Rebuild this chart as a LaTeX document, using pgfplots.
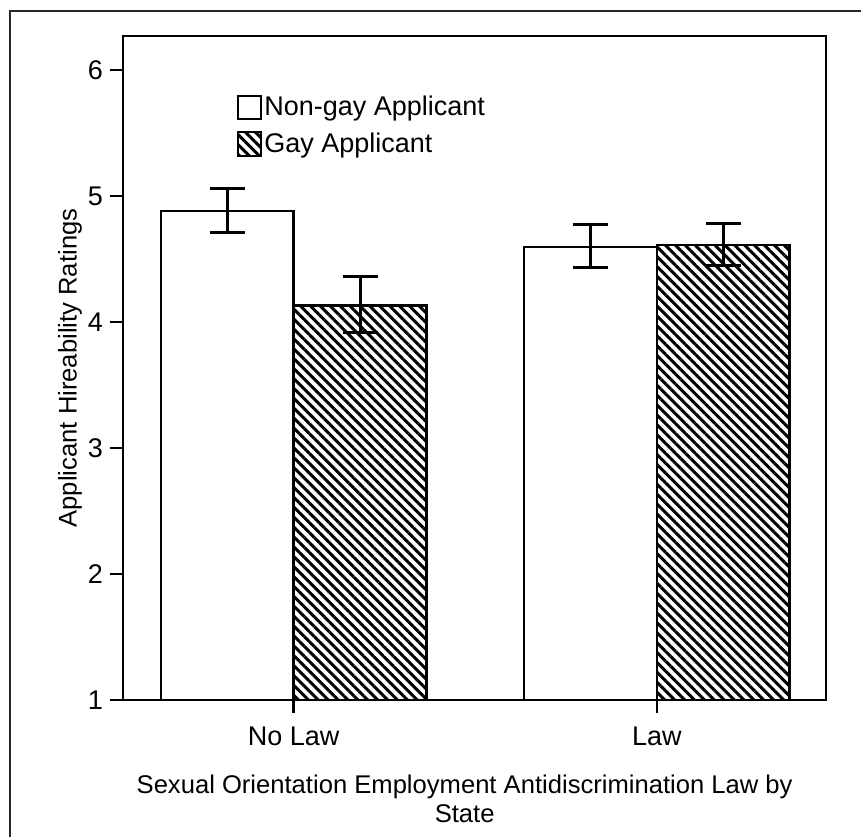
\documentclass[border=0pt]{standalone}
\usepackage{pgfplots}
\usepackage{pgfplotstable}
\pgfplotsset{compat=1.18}
\usepackage{fontspec}
\setmainfont{Liberation Sans}
\usetikzlibrary{patterns.meta}
\pgfplotstableread{
x y ep em
0 4.88 0.18 0.17
1 4.595 0.175 0.165
}\nongay
\pgfplotstableread{
x y ep em
0 4.13 0.23 0.21
1 4.61 0.17 0.16
}\gay
\begin{document}
\begin{tikzpicture}
\useasboundingbox (-61.5pt,-68.5pt) rectangle (369pt,350pt);
\draw[line width=0.8pt, black!85] (-56.5pt,-68.5pt) -- (-56.5pt,344.5pt) -- (369pt,344.5pt);
\begin{axis}[
  at={(0,0)}, anchor=south west,
  scale only axis,
  width=351.5pt, height=332pt,
  ybar, bar width=0.366,
  xmin=-0.47, xmax=1.466,
  ymin=1, ymax=6.27,
  xtick={0,1}, xticklabels={No Law, Law},
  ytick={1,2,3,4,5,6},
  axis line style={line width=1.2pt},
  tick style={line width=1.2pt, black},
  tick align=outside,
  xtick pos=bottom, ytick pos=left,
  major tick length=6.5pt,
  /pgf/number format/assume math mode=true,
  yticklabel style={font=\fontsize{13.5}{15}\selectfont},
  xticklabel style={font=\fontsize{13.5}{15}\selectfont, yshift=-3.5pt},
  ylabel={Applicant Hireability Ratings},
  every axis y label/.style={at={(axis description cs:-0.0754,0.5)}, rotate=90, anchor=center, font=\fontsize{12.8}{14.5}\selectfont},
  xlabel={Sexual Orientation Employment Antidiscrimination Law by\\State},
  every axis x label/.style={at={(axis description cs:0.486,0)}, yshift=-34pt, anchor=north, align=center, font=\fontsize{12.8}{14.5}\selectfont},
  legend style={draw=none, fill=none, at={(0.162,0.916)}, anchor=north west,
    font=\fontsize{13.5}{15}\selectfont, row sep=3pt, inner sep=0pt,
    nodes={inner xsep=1pt}},
  legend cell align=left,
  legend image code/.code={\draw[#1, line width=1pt] (0pt,-5.8pt) rectangle (11.5pt,5.8pt);},
]
\addplot[bar shift=-0.183, draw=black, fill=white, line width=1.2pt,
  error bars/.cd, y dir=both, y explicit,
  error bar style={line width=1.5pt, black},
  error mark options={rotate=90, line width=1.5pt, black, mark size=8.75pt}]
  table[x=x, y=y, y error plus=ep, y error minus=em] {\nongay};
\addlegendentry{Non-gay Applicant}
\addplot[bar shift=0.183, draw=black, line width=1.2pt,
  pattern={Lines[angle=-45, distance=3.5pt, line width=1.5pt]}, pattern color=black,
  error bars/.cd, y dir=both, y explicit,
  error bar style={line width=1.5pt, black},
  error mark options={rotate=90, line width=1.5pt, black, mark size=8.75pt}]
  table[x=x, y=y, y error plus=ep, y error minus=em] {\gay};
\addlegendentry{Gay Applicant}
\end{axis}
\end{tikzpicture}
\end{document}
